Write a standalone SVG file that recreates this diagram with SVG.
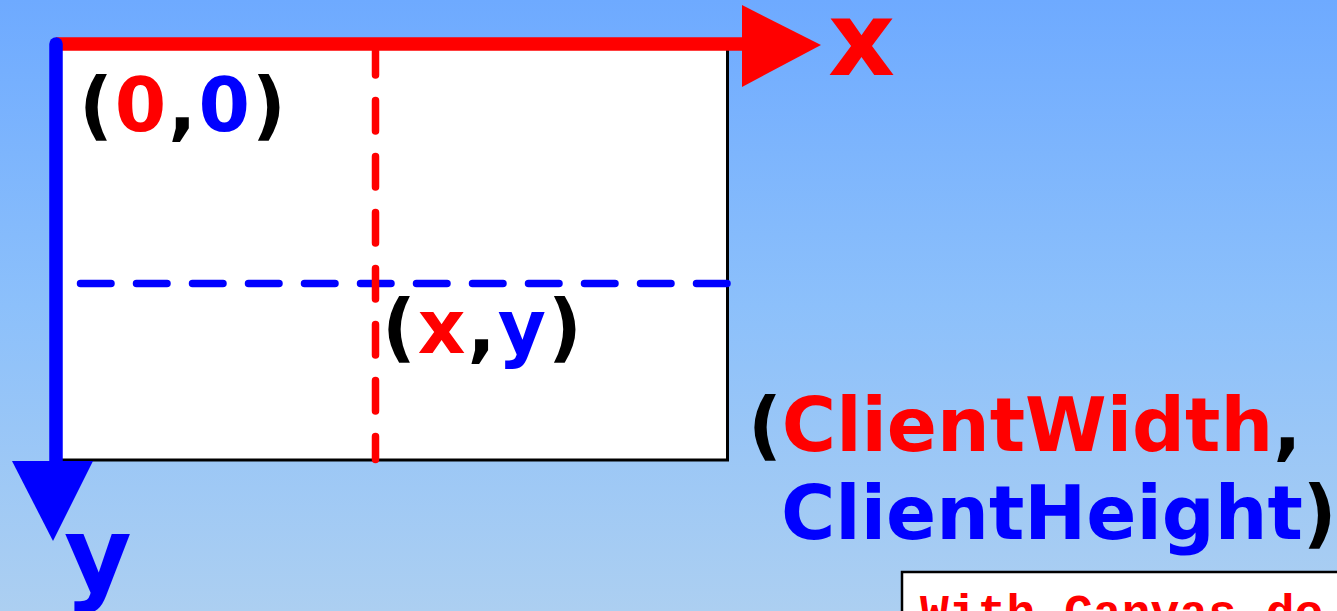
<svg xmlns="http://www.w3.org/2000/svg" width="1337" height="611" viewBox="0 0 1337 611">
  <defs>
    <linearGradient id="bg" x1="0" y1="0" x2="0" y2="1">
      <stop offset="0" stop-color="#6eaaff"/>
      <stop offset="0.5" stop-color="#8cc0fb"/>
      <stop offset="1" stop-color="#accff1"/>
    </linearGradient>
  </defs>
  <style>
    .lbl { font-family: "DejaVu Sans", Verdana, sans-serif; font-weight: bold; font-size: 74px; }
    .pt { letter-spacing: 2px; }
    .axis { font-family: "DejaVu Sans", Verdana, sans-serif; font-weight: bold; font-size: 104px; }
    .r { fill: #ff0000; }
    .b { fill: #0000ff; }
    .k { fill: #000000; }
    .dash { fill: none; stroke-width: 7.5; stroke-linecap: round; stroke-dasharray: 30.5 25.5; }
    .code { font-family: "Liberation Mono", "Courier New", monospace; font-weight: bold; font-size: 48px; fill: #ff0000; }
  </style>
  <rect x="0" y="0" width="1337" height="611" fill="url(#bg)"/>

  <g id="client-area">
    <rect x="56" y="44" width="671.5" height="416" fill="#ffffff" stroke="#000000" stroke-width="3"/>
  </g>

  <g id="connectors">
    <line x1="80.5" y1="283.5" x2="728" y2="283.5" class="dash" stroke="#0000ff"/>
    <line x1="375.5" y1="44.5" x2="375.5" y2="459.5" class="dash" stroke="#ff0000"/>
    <line x1="56" y1="44" x2="745" y2="44" stroke="#ff0000" stroke-width="13.5"/>
    <polygon points="742,5 742,87 821,45" fill="#ff0000"/>
    <line x1="56" y1="44" x2="56" y2="463" stroke="#0000ff" stroke-width="13.5" stroke-linecap="round"/>
    <polygon points="12,461 93,461 53,541" fill="#0000ff"/>
  </g>

  <g id="x-axis-label">
    <text x="828" y="75" class="axis r">x</text>
  </g>
  <g id="y-axis-label">
    <text x="64" y="591" class="axis b">y</text>
  </g>

  <g id="origin">
    <text x="79" y="131" class="lbl pt"><tspan class="k">(</tspan><tspan class="r">0</tspan><tspan class="k">,</tspan><tspan class="b">0</tspan><tspan class="k">)</tspan></text>
  </g>

  <g id="point">
    <text x="382" y="353" class="lbl pt"><tspan class="k">(</tspan><tspan class="r">x</tspan><tspan class="k">,</tspan><tspan class="b">y</tspan><tspan class="k">)</tspan></text>
  </g>

  <g id="client-size">
    <text x="748" y="451" class="lbl"><tspan class="k">(</tspan><tspan class="r">ClientWidth</tspan><tspan class="k">,</tspan></text>
    <text x="781" y="539" class="lbl"><tspan class="b">ClientHeight</tspan><tspan class="k">)</tspan></text>
  </g>

  <g id="note">
    <rect x="902" y="572" width="480" height="100" fill="#ffffff" stroke="#000000" stroke-width="2.5"/>
    <text x="920" y="628" class="code">With Canvas do</text>
  </g>
</svg>
